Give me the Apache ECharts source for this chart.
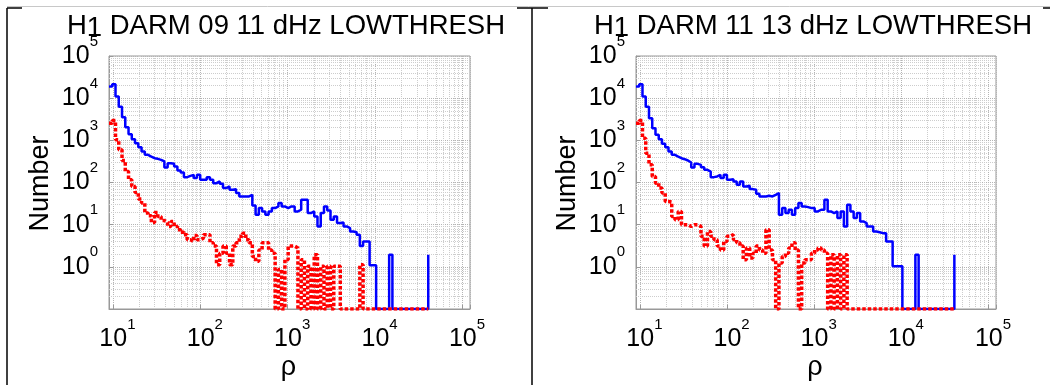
<!DOCTYPE html>
<html><head><meta charset="utf-8">
<script src="https://cdn.jsdelivr.net/npm/echarts@6/dist/echarts.min.js"></script>
<style>html,body{margin:0;padding:0;background:#fff}#c{width:1050px;height:385px}</style>
</head><body><div id="c"></div>
<script>
// ---------- data ----------
const titles = ['H1 DARM 09 11 dHz LOWTHRESH', 'H1 DARM 11 13 dHz LOWTHRESH'];
const xName = 'ρ';
const yName = 'Number';
// log-spaced histogram bins (log10 of first bin, bin width in log10)
const binLog0 = 0.9551, binLogStep = 0.03728, binCount = 99;
const rho = Array.from({length: binCount}, (_, k) => Math.pow(10, binLog0 + binLogStep * k));

const leftBlue = [18800,21300,10900,6300,3530,2050,1400,1060,855,687,
  543,453,413,377,364,345,315,227,287,277,
  240,193,173,134,144,152,127,152,116,116,
  134,116,96.5,106,93,73.6,80.5,67.1,69.7,56,
  46.7,46.7,46.7,51,28.6,17.2,24.7,20.6,17.2,20.6,
  24.7,27.1,32.5,27.1,24.7,27.1,27.1,20.6,22.6,38.9,
  38.9,18.8,20.6,15.7,9.1,18.8,27.1,21.8,13.1,15.7,
  10.9,11.3,9.1,8.3,6.9,6.6,5.8,3.1,4.0,4.0,
  1.09,1.09,0,0,0,0,1.94,0,0,0,
  0,0,0,0,0,0,0,0,1.94];
const leftRed = [2550,2940,1030,594,332,182,116,80.5,58,40.4,
  32.5,18.8,16.3,11.3,19.5,15.7,12.6,11.3,9.1,11.9,
  9.1,7.6,6.6,5.8,4.4,4.0,5.5,4.4,4.8,5.8,
  5.8,3.7,3.1,1.12,2.1,3.1,2.1,1.12,3.1,3.7,
  5.3,6.3,4.4,3.7,1.77,1.35,2.5,3.7,3.7,2.5,
  2.1,0,0.86,0,1.48,3.1,3.1,2.8,0,1.48,
  0,1.03,0,1.94,0,1.03,0,1.03,0,1.03,
  1.03,0,0,0,0,0,0,1.12,0,0,
  0,0,0,0,0,0,0,0,0,0,
  0,0,0,0,0,0,0,0,0];
const rightBlue = [18800,21300,10900,6300,3340,1940,1350,1060,825,687,
  543,453,413,377,357,332,298,227,277,262,
  231,200,182,134,139,152,127,152,116,120,
  106,88,106,80.5,83.6,69.7,67.1,54,46.7,46.7,
  48.4,46.7,51,56,17.2,24.7,18.8,22.6,17.2,24.7,
  32.5,27.1,26.1,24.7,24.7,20.6,22.6,22.6,38.9,20.6,
  18.8,20.6,14.3,20.6,9.1,29.6,20.6,14.3,18.8,11.9,
  10.9,9.1,9.1,6.9,6.6,6.3,6.3,4.0,4.0,1.03,
  1.03,1.03,0,0,0,0,1.94,0,0,0,
  0,0,0,0,0,0,0,0,1.94];
const rightRed = [2550,2940,1120,496,262,139,96.5,73.6,56,35.6,
  34.3,15.7,13.1,20.6,9.96,9.96,9.1,9.96,9.96,9.1,
  5.3,3.1,6.9,5.3,4.4,3.1,2.5,4.0,5.3,5.8,
  4.4,3.7,3.1,1.48,2.8,1.62,2.1,3.1,2.5,2.1,
  7.6,2.5,1.48,0,1.23,1.77,2.1,2.8,3.7,2.5,
  0,1.23,1.48,1.48,2.1,2.5,2.8,2.5,2.1,0,
  1.94,0,1.94,0,1.94,0,0,0,0,0,
  0,0,0,0,0,0,0,0,0,0,
  0,0,0,0,0,0,0,0,0,0,
  0,0,0,0,0,0,0,0,0];

const xMin = 9.02, xMax = 122000, yMin = 0.1, yMax = 1e5;
const xMinorTicks = [2,3,4,5,6,7,8,9,20,30,40,50,60,70,80,90,200,300,400,500,600,700,800,900,
  2000,3000,4000,5000,6000,7000,8000,9000,20000,30000,40000,50000,60000,70000,80000,90000];
const yMinorTicks = [0.2,0.3,0.4,0.5,0.6,0.7,0.8,0.9,2,3,4,5,6,7,8,9,20,30,40,50,60,70,80,90,
  200,300,400,500,600,700,800,900,2000,3000,4000,5000,6000,7000,8000,9000,
  20000,30000,40000,50000,60000,70000,80000,90000];

// ---------- layout / style ----------
const FONT = '"Liberation Sans", Arial, Helvetica, sans-serif';
const panels = [
  {left: 109, width: 361, blue: leftBlue, red: leftRed, title: titles[0], cx: 286, frameX: 7},
  {left: 636, width: 360, blue: rightBlue, red: rightRed, title: titles[1], cx: 813, frameX: 532}
];
const plotTop = 56, plotHeight = 253;

const isPow = v => { const e = Math.log10(v); return Math.abs(e - Math.round(e)) < 1e-6; };
const richBase = {
  b: {fontSize: 25, lineHeight: 44, fontFamily: FONT, color: '#000'},
  e: {fontSize: 15, verticalAlign: 'top', fontFamily: FONT, color: '#000'}
};
const richX = {
  b: Object.assign({}, richBase.b, {padding: [0, 0, 0, 9]}),
  e: richBase.e
};
const clampY = v => (v > yMin ? v : yMin);

const option = {
  animation: false,
  grid: panels.map(p => ({left: p.left, top: plotTop, width: p.width, height: plotHeight,
    show: true, borderColor: '#999999', borderWidth: 1, containLabel: false})),
  xAxis: panels.map((p, i) => ({
    type: 'log', logBase: 10, gridIndex: i, min: xMin, max: xMax,
    axisLine: {show: true, lineStyle: {color: '#999999'}},
    axisTick: {show: true, inside: true, length: 4, lineStyle: {color: '#999999'}},
    splitLine: {show: true, lineStyle: {color: '#b4b4b4', type: 'dotted'}},
    axisLabel: {margin: 8, formatter: v => isPow(v) ? '{b|10}{e|' + Math.round(Math.log10(v)) + '}' : '',
      rich: richX, showMinLabel: true, showMaxLabel: true}
  })),
  yAxis: panels.map((p, i) => ({
    type: 'log', logBase: 10, gridIndex: i, min: yMin, max: yMax,
    axisLine: {show: true, lineStyle: {color: '#999999'}},
    axisTick: {show: true, inside: true, length: 4, lineStyle: {color: '#999999'}},
    splitLine: {show: true, lineStyle: {color: '#b4b4b4', type: 'dotted'}},
    axisLabel: {margin: 11, formatter: v => (isPow(v) && Math.round(Math.log10(v)) >= 0) ? '{b|10}{e|' + Math.round(Math.log10(v)) + '}' : '',
      rich: richBase}
  })),
  series: [],
  graphic: []
};

panels.forEach((p, i) => {
  option.series.push({
    type: 'line', xAxisIndex: i, yAxisIndex: i, data: [], silent: true, z: 1,
    markLine: {z: 1, silent: true, symbol: ['none', 'none'], label: {show: false}, animation: false,
      lineStyle: {color: '#cdcdcd', type: 'dotted', width: 1},
      emphasis: {disabled: true},
      data: xMinorTicks.filter(v => v > xMin && v < xMax).map(v => ({xAxis: v}))
        .concat(yMinorTicks.map(v => ({yAxis: v})))}
  });
  option.series.push({
    type: 'line', step: 'end', xAxisIndex: i, yAxisIndex: i, symbol: 'none', z: 3,
    data: rho.map((r, k) => [r, clampY(p.blue[k])]),
    lineStyle: {color: '#0000ff', width: 2.5}
  });
  option.series.push({
    type: 'line', step: 'end', xAxisIndex: i, yAxisIndex: i, symbol: 'none', z: 4,
    data: rho.map((r, k) => [r, clampY(p.red[k])]),
    lineStyle: {color: '#ff0000', width: 3.5, type: [3.5, 2]}
  });
  const parts = p.title.split(' ');
  const head = parts[0];
  option.graphic.push({
    type: 'text', x: p.cx, y: 26, z: 10,
    style: {
      text: '{a|' + head.slice(0, 1) + '}{s|' + head.slice(1) + '}{a| ' + parts.slice(1).join(' ') + '}',
      align: 'center', verticalAlign: 'middle', fill: '#000',
      rich: {a: {fontSize: 27.5, lineHeight: 44, fontFamily: FONT, fill: '#000'},
             s: {fontSize: 27.5, fontFamily: FONT, fill: '#000', padding: [5, 0, 0, 0]}}
    }
  });
  option.graphic.push({
    type: 'text', x: p.left - 68, y: plotTop + plotHeight / 2 + 1, rotation: Math.PI / 2, z: 10,
    style: {text: yName, align: 'center', verticalAlign: 'middle', fill: '#000', fontSize: 27, fontFamily: FONT}
  });
  option.graphic.push({
    type: 'text', x: p.left + p.width / 2 - 1, y: 368, z: 10,
    style: {text: xName, align: 'center', verticalAlign: 'middle', fill: '#000', fontSize: 27, fontFamily: FONT}
  });
  option.graphic.push({type: 'line', z: 9, shape: {x1: p.frameX, y1: 8, x2: p.frameX, y2: 385}, style: {stroke: '#000', lineWidth: 1.5}});
});
option.graphic.push({type: 'line', z: 8, shape: {x1: 7, y1: 6.5, x2: 1050, y2: 6.5}, style: {stroke: '#c8c8c8', lineWidth: 1}});
option.graphic.push({type: 'line', z: 9, shape: {x1: 7, y1: 8, x2: 22, y2: 8}, style: {stroke: '#000', lineWidth: 1.5}});
option.graphic.push({type: 'line', z: 9, shape: {x1: 517, y1: 8, x2: 548, y2: 8}, style: {stroke: '#000', lineWidth: 1.5}});
option.graphic.push({type: 'line', z: 9, shape: {x1: 1043, y1: 8, x2: 1050, y2: 8}, style: {stroke: '#000', lineWidth: 1.5}});

const chart = echarts.init(document.getElementById('c'), null, {renderer: 'canvas'});
chart.setOption(option);
</script>
</body></html>
